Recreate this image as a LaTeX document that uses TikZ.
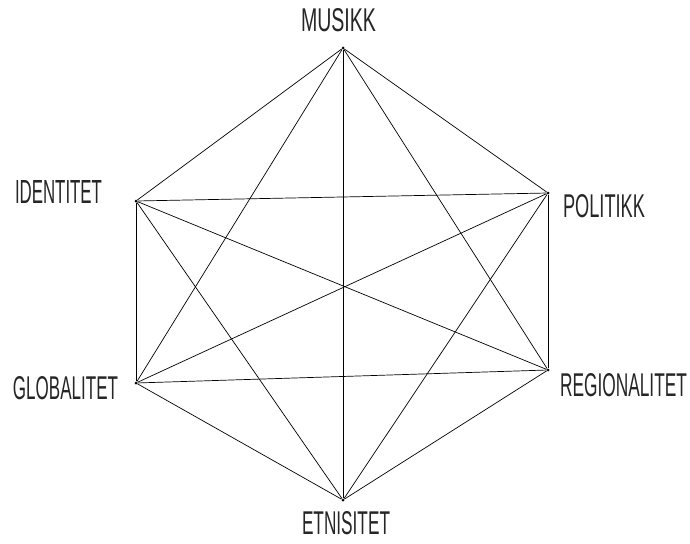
\documentclass[tikz,border=0pt]{standalone}
\usepackage{fontspec}
\usepackage{graphicx}
\newfontfamily\labfont{Liberation Sans}
\newcommand{\lbltext}[2]{\resizebox{#1pt}{23pt}{\labfont #2}}
\begin{document}
\begin{tikzpicture}[x=1pt,y=-1pt,
  vtx/.style={circle,fill=black,inner sep=0pt,minimum size=3pt},
  lab/.style={text=black!85,inner sep=0pt},
  edge/.style={draw=black,line width=0.7pt}]
\useasboundingbox (0,0) rectangle (690,543);
\node[vtx] (m) at (343,48) {};
\node[vtx] (i) at (136,201) {};
\node[vtx] (p) at (548,193) {};
\node[vtx] (g) at (136,383) {};
\node[vtx] (r) at (548,370) {};
\node[vtx] (e) at (343,500) {};
\node[lab] (lm) at (338.5,20) {\lbltext{75}{MUSIKK}};
\node[lab] (li) at (58.5,191.5) {\lbltext{87}{IDENTITET}};
\node[lab] (lp) at (604,206.5) {\lbltext{82}{POLITIKK}};
\node[lab] (lg) at (65.5,388.5) {\lbltext{105}{GLOBALITET}};
\node[lab] (lr) at (623.5,385.5) {\lbltext{127}{REGIONALITET}};
\node[lab] (le) at (346,523.5) {\lbltext{88}{ETNISITET}};
\foreach \a/\b in {m/i,m/p,m/g,m/r,m/e,i/p,i/g,i/r,i/e,p/g,p/r,p/e,g/r,g/e,r/e}
  \draw[edge] (\a) -- (\b);
\end{tikzpicture}
\end{document}
